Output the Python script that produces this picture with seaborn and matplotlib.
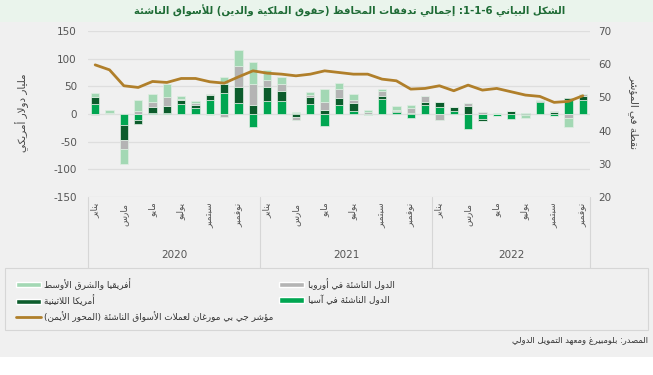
import re
import numpy as np
import seaborn as sns
import matplotlib.pyplot as plt
from matplotlib.patches import Patch, Rectangle
from matplotlib.lines import Line2D
import matplotlib.transforms as mtransforms

# monthly data, Jan 2020 - Nov 2022 (billion USD)
asia = [18, 0, -19, -11, 1, 1, 18, 11, 26, 38, 20, -24,
        24, 24, 1, 18, -21, 17, 6, -1, 28, 3, -7, 17,
        13, 6, -27, -9, -3, -9, 1, 21, -3, 26, 25]
latam = [13, 0, -28, -7, 11, 13, 7, 6, 9, 17, 28, 16,
         25, 17, -5, 12, 8, 12, 14, -1, 4, 3, 2, 5,
         8, 6, 15, -3, -1, 5, -2, 3, 4, 3, 8]
europe = [-2, 2, -17, 6, 9, 17, 3, 3, 1, -6, 38, 38,
          13, 14, -6, 5, 13, 17, 5, 4, 10, 1, 9, 11,
          -10, 0, 5, 3, 0, 1, 0, 1, 1, -7, 4]
africa = [7, 5, -26, 19, 16, 24, 5, 4, -1, 12, 30, 40,
          17, 12, 2, 5, 24, 10, 11, 4, 4, 7, 6, 0,
          0, 1, 0, -1, 2, 0, -5, 0, -1, -17, 0]
# JP Morgan EM currency index (right axis)
jpm_index = [59.8, 58.3, 53.5, 53.0, 54.8, 54.5, 55.7, 55.7, 54.7, 54.3, 56.2, 58.0,
             57.3, 57.0, 56.5, 57.0, 58.0, 57.5, 57.0, 57.0, 55.5, 55.0, 52.5, 52.7,
             53.5, 52.0, 53.7, 52.2, 52.7, 51.7, 50.7, 50.3, 48.5, 48.8, 50.5]

month_labels = ['يناير', 'مارس', 'مايو', 'يوليو', 'سبتمبر', 'نوفمبر']
years = ['2020', '2021', '2022']

series_names = ['الدول الناشئة في آسيا', 'أمريكا اللاتينية',
                'الدول الناشئة في أوروبا', 'أفريقيا والشرق الأوسط']
line_name = 'مؤشر جي بي مورغان لعملات الأسواق الناشئة (المحور الأيمن)'
title = 'الشكل البياني 1-1-6: إجمالي تدفقات المحافظ (حقوق الملكية والدين) للأسواق الناشئة'
left_label = 'مليار دولار أمريكي'
right_label = 'نقطة في المؤشر'
source = 'المصدر: بلومبيرغ ومعهد التمويل الدولي'

colors = ['#00a651', '#0c5c2c', '#b4b4b4', '#a3d8b4']
line_color = '#b07f2a'

# --- tiny arabic shaper (matplotlib has no shaping / rtl) ---
_seq = [('ء', 1), ('آ', 2), ('أ', 2), ('ؤ', 2), ('إ', 2), ('ئ', 4), ('ا', 2), ('ب', 4),
        ('ة', 2), ('ت', 4), ('ث', 4), ('ج', 4), ('ح', 4), ('خ', 4), ('د', 2), ('ذ', 2),
        ('ر', 2), ('ز', 2), ('س', 4), ('ش', 4), ('ص', 4), ('ض', 4), ('ط', 4), ('ظ', 4),
        ('ع', 4), ('غ', 4), ('ف', 4), ('ق', 4), ('ك', 4), ('ل', 4), ('م', 4), ('ن', 4),
        ('ه', 4), ('و', 2), ('ى', 2), ('ي', 4)]
FORMS = {}
cp = 0xFE80
for ch, n in _seq:
    FORMS[ch] = [chr(cp + i) for i in range(n)]
    cp += n
LAM_ALEF = {'آ': 0xFEF5, 'أ': 0xFEF7, 'إ': 0xFEF9, 'ا': 0xFEFB}


def joins_next(c):
    return c in FORMS and len(FORMS[c]) == 4


def joins_prev(c):
    return c in FORMS and len(FORMS[c]) >= 2


def ar(text):
    out = []
    i = 0
    while i < len(text):
        ch = text[i]
        prev = text[i - 1] if i > 0 else ''
        nxt = text[i + 1] if i + 1 < len(text) else ''
        if ch not in FORMS:
            out.append(ch)
            i += 1
            continue
        p = joins_next(prev) and joins_prev(ch)
        if ch == 'ل' and nxt in LAM_ALEF:
            out.append(chr(LAM_ALEF[nxt] + (1 if p else 0)))
            i += 2
            continue
        n = joins_next(ch) and joins_prev(nxt)
        idx = 3 if (p and n) else 1 if p else 2 if n else 0
        out.append(FORMS[ch][idx])
        i += 1
    shaped = ''.join(out)
    tokens = re.findall(r'[0-9A-Za-z]+(?:[-.][0-9A-Za-z]+)*|.', shaped)
    mirror = {'(': ')', ')': '('}
    return ''.join(mirror.get(t, t) for t in reversed(tokens))


sns.set_theme(style="white")
plt.rcParams['font.family'] = ['DejaVu Sans']
plt.rcParams['axes.unicode_minus'] = False

fig = plt.figure(figsize=(6.53, 3.75), dpi=100)
fig.patch.set_facecolor('white')
# panels
fig.patches.append(Rectangle((0, 18 / 375), 1, 335 / 375, transform=fig.transFigure,
                             facecolor='#f0f0f0', edgecolor='none', zorder=-3))
fig.patches.append(Rectangle((0, 353 / 375), 1, 22 / 375, transform=fig.transFigure,
                             facecolor='#eaf4ec', edgecolor='none', zorder=-2))
fig.patches.append(Rectangle((5 / 653, 45 / 375), 643 / 653, 62 / 375, transform=fig.transFigure,
                             facecolor='#f0f0f0', edgecolor='#d6d6d6', lw=0.8, zorder=-1))

ax = fig.add_axes([88 / 653, 178 / 375, 502 / 653, 166 / 375])
ax.set_facecolor('#f0f0f0')

x = np.arange(len(asia))
pos_base = np.zeros(len(x))
neg_base = np.zeros(len(x))
for vals, col in zip([asia, latam, europe, africa], colors):
    v = np.array(vals, dtype=float)
    bottom = np.where(v >= 0, pos_base, neg_base)
    ax.bar(x, v, bottom=bottom, width=0.58, color=col, edgecolor='#dfeee3', linewidth=0.5, zorder=3)
    pos_base += np.where(v >= 0, v, 0)
    neg_base += np.where(v < 0, v, 0)

ax.set_ylim(-150, 150)
ax.set_yticks(np.arange(-150, 151, 50))
ax.set_xlim(-0.5, len(x) - 0.5)
ax.grid(axis='y', color='#dedede', lw=0.9, zorder=0)
for s in ax.spines.values():
    s.set_visible(False)
ax.tick_params(axis='y', length=0, pad=8, labelsize=7.5, labelcolor='#555555')
ax.set_xticks(x[::2])
ax.set_xticklabels([ar(m) for m in month_labels * 3], rotation=90, fontsize=6.5, color='#555555')
ax.tick_params(axis='x', length=0, pad=4)

# year groups
trans = mtransforms.blended_transform_factory(ax.transData, ax.transAxes)
for b in [-0.5, 11.5, 23.5, 34.5]:
    ax.plot([b, b], [0, -0.43], transform=trans, color='#d6d6d6', lw=0.8, clip_on=False)
for xc, yr in zip([5.5, 17.5, 29], years):
    ax.text(xc, -0.35, yr, transform=trans, ha='center', va='center', fontsize=7.5, color='#555555')

ax2 = ax.twinx()
sns.lineplot(x=x, y=jpm_index, ax=ax2, color=line_color, lw=2, zorder=5)
ax2.set_ylim(20, 70)
ax2.set_yticks(np.arange(20, 71, 10))
for s in ax2.spines.values():
    s.set_visible(False)
ax2.tick_params(axis='y', length=0, pad=6, labelsize=7.5, labelcolor='#555555')
ax2.grid(False)

fig.text(22 / 653, 0.70, ar(left_label), rotation=90, ha='center', va='center', fontsize=7.5, color='#444444')
fig.text(634 / 653, 0.70, ar(right_label), rotation=270, ha='center', va='center', fontsize=7.5, color='#444444')

fig.text(350 / 653, 364 / 375, ar(title), ha='center', va='center', fontsize=7.3,
         weight='bold', color='#1e6b35')

handles = [Patch(facecolor=colors[3]), Patch(facecolor=colors[1]),
           Line2D([], [], color=line_color, lw=2),
           Patch(facecolor=colors[2]), Patch(facecolor=colors[0])]
labels = [ar(series_names[3]), ar(series_names[1]), ar(line_name),
          ar(series_names[2]), ar(series_names[0])]
fig.legend(handles, labels, ncol=2, loc='upper left', bbox_to_anchor=(8 / 653, 105 / 375),
           frameon=False, fontsize=6.4, handlelength=2.8, handleheight=0.55,
           labelspacing=0.55, columnspacing=0.6, handletextpad=0.4, labelcolor='#333333')

fig.text(648 / 653, 35 / 375, ar(source), ha='right', va='center', fontsize=6, color='#333333')

fig.savefig('out.png', dpi=100)
